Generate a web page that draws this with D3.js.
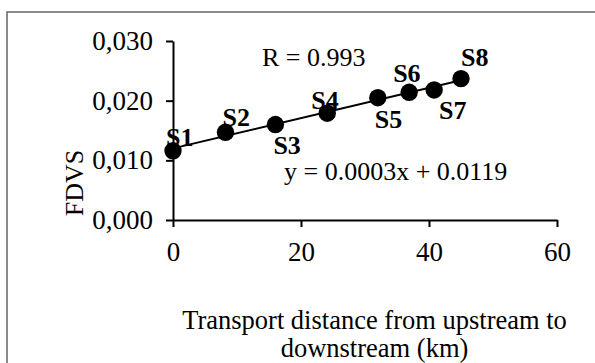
<!DOCTYPE html>
<html>
<head>
<meta charset="utf-8">
<script src="https://cdn.jsdelivr.net/npm/d3@7"></script>
<style>
  html, body { margin: 0; padding: 0; background: #fff; }
  svg { display: block; }
  text { font-family: "Liberation Serif", "Times New Roman", serif; fill: #000; }
</style>
</head>
<body>
<svg id="chart" width="595" height="363"></svg>
<script>
// ---- data ----
const sites = ["S1", "S2", "S3", "S4", "S5", "S6", "S7", "S8"];
const distanceKm = [0, 8.2, 16.0, 24.1, 32.0, 36.9, 40.8, 45.0];
const fdvs = [0.0116, 0.0147, 0.0160, 0.0179, 0.0205, 0.0214, 0.0218, 0.0237];
const xTicks = [0, 20, 40, 60];
const yTicks = [0.000, 0.010, 0.020, 0.030];
const rText = "R = 0.993";
const eqText = "y = 0.0003x + 0.0119";
const xTitle = ["Transport distance from upstream to", "downstream (km)"];
const yTitle = "FDVS";

// ---- layout (label placement, separate from data) ----
const labelOffsets = [[-7, -5], [-3, -6], [-2, 29], [-16, -4], [-3, 30], [-16, -10], [5, 29.5], [0, -12.5]];

const svg = d3.select("#chart");
const FS = 26;
const TICK_FS = 27;

// outer frame
svg.append("rect").attr("x", 7).attr("y", 12).attr("width", 620).attr("height", 420)
  .attr("fill", "none").attr("stroke", "#6e6e6e").attr("stroke-width", 1.6);

const x = d3.scaleLinear().domain([0, 60]).range([173, 557]);
const y = d3.scaleLinear().domain([0, 0.030]).range([220, 41]);

const fmt = v => d3.format(".3f")(v).replace(".", ",");

const yAxis = svg.append("g").attr("transform", `translate(${x(0)},0)`)
  .call(d3.axisLeft(y).tickValues(yTicks).tickFormat(fmt).tickSize(7).tickSizeOuter(0).tickPadding(13));
const xAxis = svg.append("g").attr("transform", `translate(0,${y(0)})`)
  .call(d3.axisBottom(x).tickValues(xTicks).tickSize(7).tickSizeOuter(0).tickPadding(14.5));

[xAxis, yAxis].forEach(g => {
  g.selectAll("path, line").attr("stroke", "#000").attr("stroke-width", 2);
  g.selectAll("text").attr("font-family", '"Liberation Serif", "Times New Roman", serif')
    .attr("font-size", TICK_FS).attr("fill", "#000");
});

// trend line (least squares)
const n = distanceKm.length;
const mx = d3.mean(distanceKm), my = d3.mean(fdvs);
let sxy = 0, sxx = 0;
for (let i = 0; i < n; i++) { sxy += (distanceKm[i] - mx) * (fdvs[i] - my); sxx += (distanceKm[i] - mx) ** 2; }
const slope = sxy / sxx, intercept = my - slope * mx;
const xr = d3.extent(distanceKm);
svg.append("line")
  .attr("x1", x(xr[0])).attr("y1", y(intercept + slope * xr[0]))
  .attr("x2", x(xr[1])).attr("y2", y(intercept + slope * xr[1]))
  .attr("stroke", "#000").attr("stroke-width", 2);

// points
const pts = sites.map((s, i) => ({ s, d: distanceKm[i], v: fdvs[i], off: labelOffsets[i] }));
svg.append("g").selectAll("circle").data(pts).join("circle")
  .attr("cx", p => x(p.d)).attr("cy", p => y(p.v)).attr("r", 8.7).attr("fill", "#000");

svg.append("g").selectAll("text").data(pts).join("text")
  .attr("x", p => x(p.d) + p.off[0]).attr("y", p => y(p.v) + p.off[1])
  .attr("font-size", FS).attr("font-weight", "bold").text(p => p.s);

// annotations
svg.append("text").attr("x", 262).attr("y", 65.5).attr("font-size", FS).text(rText);
svg.append("text").attr("x", 284).attr("y", 179.5).attr("font-size", FS).text(eqText);

// axis titles
svg.append("text").attr("text-anchor", "middle").attr("font-size", 26.5)
  .selectAll("tspan").data(xTitle).join("tspan")
  .attr("x", 374.5).attr("y", (d, i) => 329 + i * 28).text(d => d);

svg.append("text").attr("transform", "translate(83,183) rotate(-90)")
  .attr("text-anchor", "middle").attr("font-size", FS).text(yTitle);
</script>
</body>
</html>
